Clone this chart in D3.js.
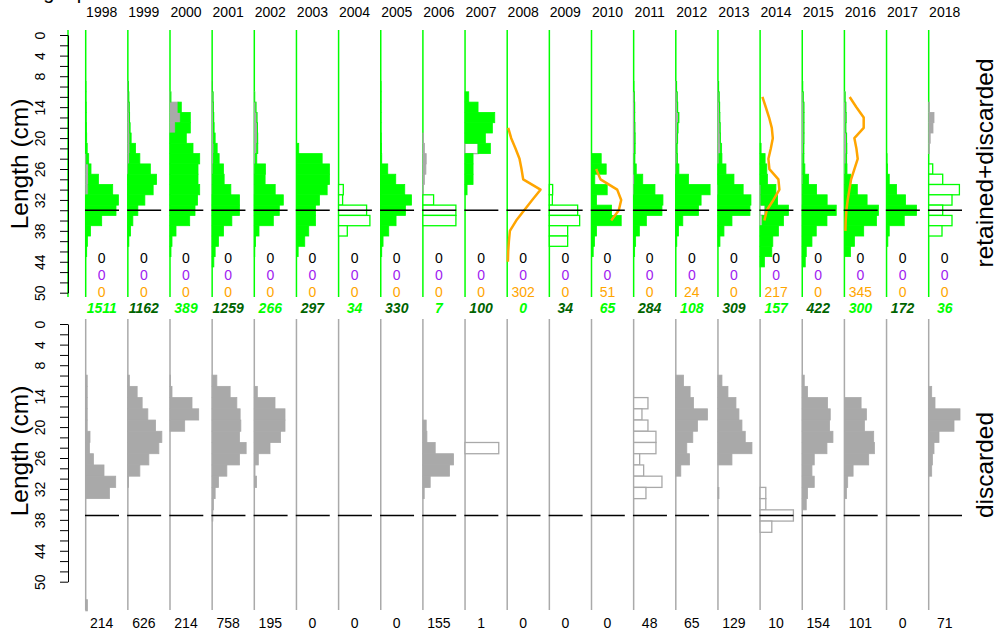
<!DOCTYPE html>
<html>
<head>
<meta charset="utf-8">
<script src="https://cdn.jsdelivr.net/npm/d3@7"></script>
<style>
  body { margin: 0; background: #fff; }
  svg { display: block; font-family: "Liberation Sans", Arial, sans-serif; }
</style>
</head>
<body>
<div id="chart"></div>
<script>
// Years and sample sizes per source
const years = [1998,1999,2000,2001,2002,2003,2004,2005,2006,2007,2008,2009,2010,2011,2012,2013,2014,2015,2016,2017,2018];
const nRetained  = [1511,1162,389,1259,266,297,34,330,7,100,0,34,65,284,108,309,157,422,300,172,36];
const nDiscarded = [214,626,214,758,195,0,0,0,155,1,0,0,0,48,65,129,10,154,101,0,71];
const nSurvey    = [0,0,0,0,0,0,0,0,0,0,302,0,51,0,24,0,217,0,345,0,0];
const nOther1    = [0,0,0,0,0,0,0,0,0,0,0,0,0,0,0,0,0,0,0,0,0];
const nOther2    = [0,0,0,0,0,0,0,0,0,0,0,0,0,0,0,0,0,0,0,0,0];

// Relative frequencies per 2 cm length class (first class starts at *From)
const retainedFrom = [10,10,12,10,12,22,30,10,32,12,null,30,24,10,10,10,22,10,12,24,26];
const retained = [
  [0.3,0.3,0.5,0.5,0.7,1,1.5,2.2,2.6,10,24.5,32.7,30.3,16,4.8,1.7,1],
  [0.3,0.3,0.3,0.3,0.5,1.3,5.7,10.5,22,28.7,25.3,17,10,5,2.7,1],
  [0.3,3.3,10,15,16.3,23,29.7,28,28,29.7,27.5,25,19.7,6,2,1],
  [0.2,0.2,0.3,0.4,0.6,1.6,3.3,5.6,10.5,11.6,18.5,27.3,27.3,19.7,11.3,6.3,3,1.7],
  [0.2,0.3,0.3,0.3,0.5,1,1.3,10.7,10.7,20.7,29,25,19,4.7,1.3,0.5],
  [2.3,25.7,33,33,30.7,23,19,19,12.3,8.3,1.7],
  [4.7,4,28,31.3,8.7],
  [0.3,0.3,0.3,0.3,0.3,0.5,0.7,1,7,15,24,30.7,24.7,15.3,8,2.3,1],
  [10.7,33,33],
  [3.7,13,29.7,27.3,20.3,12.3,8,8,8,2],
  null,
  [3.3,3,28.3,30.3,18.3,18.3],
  [9.7,14.7,3.3,15.7,5,20,29.7,5,3,1.7],
  [0.3,0.3,0.3,0.3,0.3,0.5,0.7,1,2.3,8.3,21,29.3,28.3,12.7,5.7,2,1],
  [0.3,0.3,0.5,0.5,0.5,0.5,0.5,0.7,2.7,12.7,34.3,25.3,22.7,7,2.7,1],
  [0.3,0.3,0.3,0.3,0.3,0.3,1,3,8,16,25,33,32,14,6,2],
  [1,5,6.7,7.3,15,16.7,23.3,21.3,18.3,12.7,11.7,4.3],
  [0.3,0.3,0.3,0.3,0.3,0.3,0.5,1,2,5.7,14,24.7,34,24.7,14,9.7,4,3],
  [0.3,0.3,0.3,0.3,0.3,0.5,0.7,2,6,12.7,22.7,34,32,19.3,10,6],
  [0.5,1,2.7,10,19,30,17.7,2.7,1.3],
  [4,14,30.7,23.3,14,23.3,13.3]
];

// discarded part of the retained+discarded panel
const discTopFrom = [24,10,12,10,12,null,null,null,20,22,null,null,null,12,10,10,30,10,12,null,14];
const discTop = [
  [0.8,2.7,2.7,2.5],
  [0.3,0.8,1.2,1.5,1.8,2,2,1.5,0.5],
  [0.7,8,10.3,5.3],
  [0.2,0.8,1.1,1.3,1.4,1.4,1.7,1.4,0.8,0.4,0.2],
  [0.3,1.5,2.5,3,3,2.5,1.2,0.4,0.1,0.2],
  null, null, null,
  [0.7,1.5,3.3,3,1.5,0.5],
  [13],
  null, null, null,
  [0.5,0.8,0.8,1,1,0.8,0.3,0.3,0.8,0.3],
  [0.6,1.2,1.5,2.7,1.8,1.4,0.9,1.1,0.4],
  [0.5,1,1.5,1.7,2,2.3,2.7,1,0,0,0.2],
  [0.8,0.8,5,2],
  [0.3,0.8,1.5,1.5,1.5,1.5,1.2,0.7,0.6,0.7,0.3,0.2],
  [0.5,1.3,1.5,1.3,2,2,1.6,0.6,0.3,0.2],
  null,
  [0.7,5.3,4.3,1.5,0.7]
];

// discarded panel
const discardedFrom = [10,10,10,10,12,null,null,null,18,22,null,null,null,14,10,10,30,10,14,null,12];
const discarded = [
  [1.5,1.5,1.5,1.5,1.5,4.3,3.7,7.7,18.3,30,23.7,0,0,0,0,0,0,0,0,0,1.7],
  [1.5,9.3,14.3,20,27.7,34,31,21,12,0.7],
  [0.5,2,22,28.7,14.7],
  [4.7,18,24.7,28,28.7,27.3,34,27.3,14.7,6.3,3,1.3,0.7],
  [3,20.7,30.7,30.7,26.3,15.7,4,0.7,2.3],
  null, null, null,
  [3.3,4,12.3,30.7,26.7,7.3,1.3],
  [33.7],
  null, null, null,
  [14.3,8.3,14.3,22.3,22.3,6,10,28.3,12.3],
  [7.7,14.3,17.7,31.7,21.7,17,11,13.7,5],
  [4,10,18,21,24,27.3,34,14,0,0,1],
  [5.7,5.7,33.3,11.7],
  [2,5.3,25.3,28,27.3,30.7,24.7,12,9.7,12,5.3,4],
  [16.7,22,20,29.3,30,24.3,8.7,3.3,2],
  null,
  [3,6.3,31.3,25.3,10.3,5.3,3.7,3]
];

// survey line, values at class mid-points
const surveyFrom = [null,null,null,null,null,null,null,null,null,null,19,null,27,null,null,null,13,null,13,null,null];
const survey = [
  null,null,null,null,null,null,null,null,null,null,
  [1,4,8.3,12.3,14.3,16,33.3,25,17,9,2.7,1.7,1,0.7],
  null,
  [4.7,9,25.7,29.7,27.3,19.7],
  null,null,null,
  [2.3,5.7,9,11.7,12.7,10.7,8.3,9.3,18.3,19.3,13.3,6.7,4.3],
  null,
  [5.3,12,19.3,19.3,10,12,13.3,10,6.7,5,3.3,2,1.3,1],
  null,null
];

const axisTicks = [0,2,4,6,8,10,12,14,16,18,20,22,24,26,28,30,32,34,36,38,40,42,44,46,48,50];
const axisLabels = [0,4,8,14,20,26,32,38,44,50];
const refLength = 35;
const minN = 50;

const width = 1000, height = 634;
const green = "#00ff00", dark = "#006400", grey = "#a9a9a9";

const svg = d3.select("#chart").append("svg")
  .attr("width", width).attr("height", height);

const x = d3.scaleLinear().domain([1998, 2018]).range([85.7, 928.7]);
const w = d3.scaleLinear().domain([0, 34]).range([0, 34]);
const yTop = d3.scaleLinear().domain([0, 51.84]).range([30, 297]);
const yBot = d3.scaleLinear().domain([0, 51.84]).range([319, 610]);

const bins = (from, vals) => vals ? vals.map((v, j) => ({lo: from + 2 * j, v})) : [];

// title, mostly above the top edge as in the original
svg.append("text").attr("x", 10).attr("y", -1.5)
  .attr("font-size", 20).text("Length per fleet");

// year labels
svg.append("g").selectAll("text").data(years).join("text")
  .attr("x", d => x(d) + 16).attr("y", 16.7)
  .attr("text-anchor", "middle").attr("font-size", 14)
  .text(d => d);

function yAxis(y0) {
  const s = d3.scaleLinear().domain([0, 50]).range([y0 + 5, y0 + 262.7]);
  const g = svg.append("g").attr("transform", "translate(68,0)")
    .call(d3.axisLeft(s).tickValues(axisTicks).tickSize(8).tickSizeOuter(0)
      .tickFormat(d => axisLabels.includes(d) ? d : ""));
  g.select(".domain").attr("stroke", "#000");
  g.selectAll("line").attr("stroke", "#000");
  g.selectAll("text")
    .attr("transform", "rotate(-90)")
    .attr("x", 0).attr("y", -23).attr("dy", 0)
    .attr("text-anchor", "middle")
    .attr("font-size", 14).attr("fill", "#000");
  return g;
}

function sideLabel(xp, yc, txt) {
  svg.append("text")
    .attr("transform", `translate(${xp},${yc}) rotate(-90)`)
    .attr("text-anchor", "middle").attr("font-size", 24.5)
    .text(txt);
}

// ---- top panel: retained + discarded ----
svg.append("line").attr("x1", 68).attr("x2", 68).attr("y1", 30).attr("y2", 297)
  .attr("stroke", green).attr("stroke-width", 1.5);
yAxis(30);
sideLabel(27.5, 164, "Length (cm)");
sideLabel(993, 163, "retained+discarded");

const hTop = yTop(2) - yTop(0);
years.forEach((yr, i) => {
  const g = svg.append("g").attr("transform", `translate(${x(yr)},0)`);
  g.append("line").attr("y1", 30).attr("y2", 297)
    .attr("stroke", green).attr("stroke-width", 1.5);

  const gd = bins(discTopFrom[i], discTop[i]);
  const off = new Map(gd.map(d => [d.lo, d.v]));
  const openD = nDiscarded[i] < minN;
  g.selectAll("rect.d").data(gd.filter(d => d.v > 0)).join("rect")
    .attr("class", "d")
    .attr("x", 0).attr("y", d => yTop(d.lo))
    .attr("width", d => w(d.v)).attr("height", hTop)
    .attr("fill", openD ? "#fff" : grey)
    .attr("stroke", grey).attr("stroke-width", openD ? 1.3 : 0.8);

  const openR = nRetained[i] < minN;
  g.selectAll("rect.r").data(bins(retainedFrom[i], retained[i])).join("rect")
    .attr("class", "r")
    .attr("x", d => w(off.get(d.lo) || 0)).attr("y", d => yTop(d.lo))
    .attr("width", d => w(d.v)).attr("height", hTop)
    .attr("fill", openR ? "#fff" : green)
    .attr("stroke", green).attr("stroke-width", openR ? 1.3 : 0.8);

  if (survey[i] && nSurvey[i] >= minN) {
    const line = d3.line().x(d => w(d.v)).y(d => yTop(d.lo));
    g.append("path").datum(bins(surveyFrom[i], survey[i]))
      .attr("d", line).attr("fill", "none")
      .attr("stroke", "orange").attr("stroke-width", 2.5)
      .attr("stroke-linejoin", "round");
  }

  g.append("line").attr("x1", -0.7).attr("x2", 33.3)
    .attr("y1", yTop(refLength)).attr("y2", yTop(refLength))
    .attr("stroke", "#000").attr("stroke-width", 1.4);

  const cx = 16;
  g.append("text").attr("x", cx).attr("y", 263.3).attr("text-anchor", "middle")
    .attr("font-size", 14).attr("fill", "#000").text(nOther1[i]);
  g.append("text").attr("x", cx).attr("y", 280).attr("text-anchor", "middle")
    .attr("font-size", 14).attr("fill", "#a020f0").text(nOther2[i]);
  g.append("text").attr("x", cx).attr("y", 296.7).attr("text-anchor", "middle")
    .attr("font-size", 14).attr("fill", "orange").text(nSurvey[i]);
  g.append("text").attr("x", cx).attr("y", 313.3).attr("text-anchor", "middle")
    .attr("font-size", 14).attr("font-style", "italic").attr("font-weight", "bold")
    .attr("fill", i % 2 === 0 ? green : dark).text(nRetained[i]);
});

// ---- bottom panel: discarded ----
yAxis(319);
sideLabel(27.5, 451, "Length (cm)");
sideLabel(993, 465, "discarded");

const hBot = yBot(2) - yBot(0);
years.forEach((yr, i) => {
  const g = svg.append("g").attr("transform", `translate(${x(yr)},0)`);
  g.append("line").attr("y1", 319).attr("y2", 610)
    .attr("stroke", "#aaaaaa").attr("stroke-width", 1.5);

  const open = nDiscarded[i] < minN;
  g.selectAll("rect").data(bins(discardedFrom[i], discarded[i]).filter(d => d.v > 0)).join("rect")
    .attr("x", 0).attr("y", d => yBot(d.lo))
    .attr("width", d => w(d.v)).attr("height", hBot)
    .attr("fill", open ? "#fff" : grey)
    .attr("stroke", grey).attr("stroke-width", open ? 1.3 : 0.8);

  g.append("line").attr("x1", -0.7).attr("x2", 33.3)
    .attr("y1", yBot(refLength)).attr("y2", yBot(refLength))
    .attr("stroke", "#000").attr("stroke-width", 1.4);

  g.append("text").attr("x", 16).attr("y", 628).attr("text-anchor", "middle")
    .attr("font-size", 14).attr("fill", "#000").text(nDiscarded[i]);
});
</script>
</body>
</html>
